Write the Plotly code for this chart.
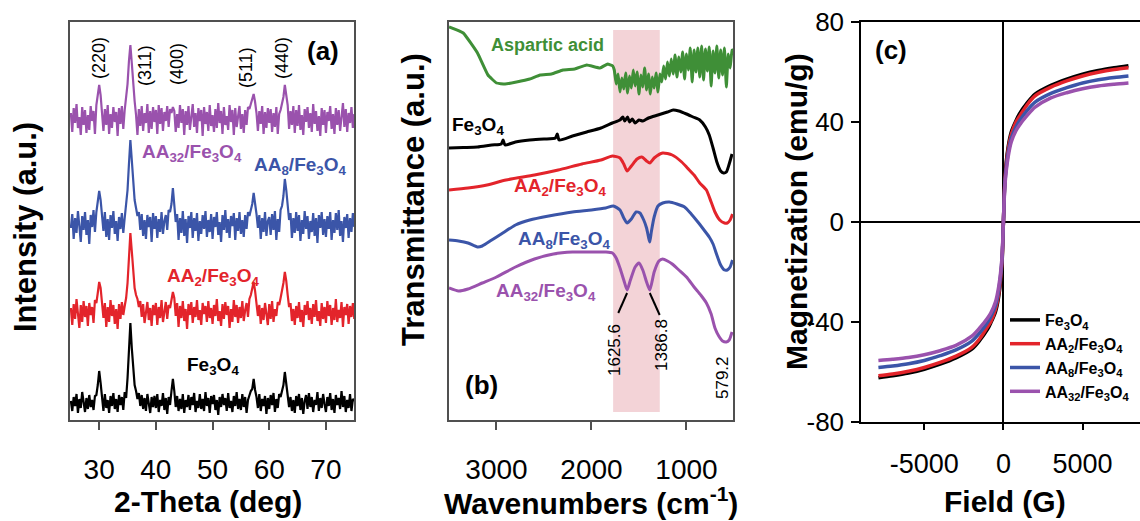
import plotly.graph_objects as go

W, H = 1140, 521
def PX(x): return x / W
def PY(y): return 1 - y / H

FONT = "Liberation Sans, Arial, sans-serif"

BLACK = "#000000"; RED = "#e3242b"; BLUE = "#3b55a8"; PURPLE = "#9a52ad"; GREEN = "#3f8f37"

# ---------------- (a) XRD ----------------
XRD_START = 25.0
XRD_STEP = 0.25
XRD_NAMES = ["Fe3O4", "AA2/Fe3O4", "AA8/Fe3O4", "AA32/Fe3O4"]
XRD_OFFSETS = [17, 107, 196, 301]
xrd_fe3o4 = [
    2,-8,6,-3,9,-10,4,-5,11,-2,-9,5,-6,8,-4,3,-7,7,8,18,
    32,20,6,-8,9,-5,3,-10,7,-3,10,-6,4,-9,8,-2,6,-7,11,5,
    25,50,80,55,30,18,12,4,10,-3,8,-6,5,-8,9,-2,-10,6,-4,7,
    -5,9,-9,3,-3,10,-7,5,-11,6,-2,12,24,12,-4,7,-8,4,-6,9,
    -10,3,-4,8,-7,6,-2,10,-9,2,-5,9,-6,4,-8,11,-3,5,-10,7,
    -1,8,-7,3,-12,6,-4,9,-2,5,-8,10,-5,2,-9,7,-3,11,-6,4,
    -7,9,-4,6,-10,3,8,12,14,24,13,6,-5,9,-8,4,-3,7,-11,5,
    -6,8,-2,10,-9,4,-5,9,6,12,18,31,20,9,-4,6,-8,3,-10,7,
    -3,9,-7,5,-11,2,8,-6,10,-4,6,-9,3,-2,11,-8,5,-5,9,-1,
    -9,6,-3,10,-7,4,-10,8,-2,5,-6,12,-4,7,-9,3,-5,9,-8,4,
    2]
xrd_aa2 = [
    5,-12,9,-6,14,-3,-15,8,-9,12,-4,7,-13,10,-2,6,-10,13,10,20,
    31,25,12,-5,10,-14,6,-9,13,-3,8,-11,4,-16,9,-6,11,-2,7,15,
    30,55,80,62,38,25,18,14,6,12,-4,9,-10,3,11,-7,5,-13,8,-2,
    10,-12,6,-5,13,-9,2,11,-6,8,5,14,21,15,-3,10,-14,7,-5,12,
    -8,4,-16,9,-2,11,-10,6,-4,13,-7,3,-12,10,-1,7,-9,12,-5,5,
    -11,8,-3,14,-8,2,-13,9,-6,11,-2,7,-15,4,-9,13,-4,8,-10,6,
    -5,12,-8,3,10,-4,14,18,24,31,22,12,-3,8,-11,5,-7,10,-2,-12,
    9,-6,12,-9,4,-3,11,8,15,22,30,41,32,18,6,10,-8,4,-12,7,
    -5,11,-9,3,-14,8,-2,12,-7,5,-11,9,-4,13,-8,2,-13,10,-6,6,
    -10,12,-3,8,-12,5,-7,14,-9,3,-5,11,-14,6,-2,9,-11,7,-4,10,
    -6]
xrd_aa8 = [
    -4,10,-15,6,-9,13,-2,-18,8,-6,12,-11,4,-20,9,-3,14,-8,12,22,
    33,24,10,-7,12,-13,5,-16,9,-4,13,-10,3,-17,7,-5,11,-9,6,18,
    34,60,84,64,40,24,16,8,12,-6,10,-12,4,-15,9,-3,7,-18,11,-5,
    8,-14,5,-8,12,-10,3,9,-6,14,12,20,36,18,2,10,-16,6,-9,13,
    -12,5,-19,8,-4,12,-14,6,-7,11,-17,3,-10,9,-5,13,-13,4,-8,10,
    -15,7,-3,12,-11,2,-18,9,-6,14,-9,5,-14,8,-2,11,-16,6,-7,12,
    -10,4,-13,9,-5,12,8,14,20,31,22,10,-4,9,-15,6,-8,12,-12,3,
    7,-11,10,-6,13,-16,5,-8,14,18,28,45,34,16,4,11,-14,6,-9,12,
    -7,9,-17,4,-10,13,-5,8,-15,3,-8,11,-12,6,-19,9,-4,12,-11,5,
    -13,8,-5,12,-16,4,-9,11,-6,14,-12,3,-18,7,-4,10,-14,6,-8,11,
    -3]
xrd_aa32 = [
    6,-13,11,-4,15,-9,2,-16,12,-6,9,-14,4,-11,13,-2,8,-15,14,22,
    34,24,8,-12,10,-6,14,-15,5,-9,12,-3,7,-17,11,-5,13,-10,9,20,
    35,58,74,56,34,18,4,-16,10,-7,13,-12,6,-4,15,-14,8,-10,12,-3,
    9,-15,14,-5,11,-12,7,-2,13,-8,10,6,12,8,-13,5,-9,14,-4,10,
    -16,8,-6,13,-11,3,15,-8,6,-14,11,-2,9,-17,12,-5,7,-12,14,-7,
    4,-13,10,-9,16,-4,8,-15,12,-6,3,-11,14,-3,9,-16,11,-8,6,13,
    -10,5,-14,9,-6,12,10,15,18,25,17,6,-12,8,-5,13,-15,7,-9,11,
    -4,10,-13,6,-8,12,-15,5,9,16,22,34,26,14,-10,8,-6,13,-14,9,
    -7,14,-11,4,-16,10,-3,12,-9,6,-13,15,-5,8,-12,3,-17,11,-6,9,
    -14,7,-2,13,-10,5,-15,11,-6,9,-12,4,16,-8,10,-13,6,-4,12,-9,
    5]
XRD_SERIES = [xrd_fe3o4, xrd_aa2, xrd_aa8, xrd_aa32]
XRD_TICKS = [30, 40, 50, 60, 70]
HKL_LABELS = ["(220)", "(311)", "(400)", "(511)", "(440)"]

# ---------------- (b) FTIR ----------------
asp_wn = [3500, 3350, 3200, 3090, 3000, 2910, 2790, 2650, 2540, 2420, 2300, 2175, 2050, 1910, 1830, 1776,
          1760, 1740, 1720, 1700, 1680, 1660, 1640, 1620, 1600, 1580, 1560, 1540, 1520, 1500, 1480, 1460,
          1440, 1420, 1400, 1380, 1360, 1340, 1320, 1300, 1280, 1260, 1240, 1220, 1200, 1180, 1160, 1140,
          1120, 1100, 1080, 1060, 1040, 1020, 1000, 980, 960, 940, 920, 900, 880, 860, 840, 820, 800, 780,
          760, 740, 720, 700, 680, 660, 640, 620, 600, 580, 560, 540, 520, 510]
asp_t = [393, 387, 367, 345, 337, 336, 338, 341, 345, 346, 350, 351, 355, 352, 356, 354,
         350, 336, 346, 328, 342, 331, 347, 327, 344, 332, 350, 334, 348, 326, 345, 333,
         352, 330, 346, 326, 343, 332, 347, 328, 346, 338, 354, 341, 358, 344, 361, 346,
         365, 343, 363, 348, 368, 341, 366, 350, 372, 338, 370, 348, 372, 343, 374, 340, 371, 349,
         373, 334, 369, 347, 374, 342, 370, 345, 372, 333, 366, 352, 370, 370]

fe_wn = [3500, 3350, 3200, 3050, 2950, 2930, 2910, 2800, 2650, 2500, 2380, 2360, 2340, 2200, 2050, 1900,
         1780, 1700, 1670, 1650, 1620, 1600, 1570, 1540, 1500, 1460, 1400, 1300, 1200, 1140, 1080, 1000,
         930, 860, 800, 760, 720, 680, 640, 610, 580, 550, 520]
fe_t = [272, 272.5, 273, 275, 276, 280, 275, 278, 280, 281, 282, 286, 280, 284, 288, 292,
        297, 300, 303, 299, 303, 298, 301, 297, 300, 299, 302, 305, 308, 310, 309, 306,
        303, 300, 293, 285, 272, 258, 249, 247, 248, 256, 266]

aa2_wn = [3500, 3300, 3100, 2900, 2600, 2350, 2100, 1900, 1780, 1700, 1660, 1625, 1580, 1520, 1470, 1420,
          1386, 1340, 1250, 1150, 1050, 990, 920, 860, 790, 740, 700, 650, 600, 570, 540, 515]
aa2_t = [230, 232, 235, 240, 245, 250, 256, 260, 264, 262, 256, 249, 254, 261, 263, 259,
         257, 262, 267, 265, 258, 252, 245, 237, 230, 218, 208, 200, 197, 197, 200, 206]

aa8_wn = [3500, 3400, 3300, 3200, 3150, 3050, 2950, 2800, 2650, 2450, 2200, 2000, 1850, 1770, 1700, 1660,
          1625, 1580, 1530, 1490, 1450, 1420, 1400, 1386, 1370, 1340, 1300, 1250, 1180, 1100, 1020, 950,
          880, 815, 760, 720, 680, 640, 600, 570, 540, 515]
aa8_t = [180, 179, 177, 173, 174, 180, 186, 195, 200, 204, 208, 210, 212, 214, 210, 202,
         197, 201, 208, 207, 200, 192, 183, 178, 188, 203, 214, 217, 218, 216, 213, 206,
         198, 190, 183, 176, 165, 155, 150, 150, 153, 160]

aa32_wn = [3500, 3400, 3300, 3150, 3000, 2800, 2600, 2400, 2200, 2000, 1850, 1780, 1740, 1700, 1660, 1625,
           1590, 1540, 1500, 1460, 1420, 1386, 1340, 1290, 1250, 1200, 1150, 1080, 1000, 920, 850, 790,
           740, 700, 660, 620, 580, 550, 520]
aa32_t = [132, 129, 131, 137, 143, 153, 161, 166, 168, 168, 168, 167, 162, 152, 140, 130,
          140, 153, 157, 150, 138, 130, 148, 159, 161, 159, 156, 150, 143, 133, 125, 117,
          106, 92, 84, 79, 78, 80, 88]

FTIR_TICKS = [3000, 2000, 1000]
BAND_WN = [1772, 1281]
PEAK_LABELS = ["1625.6", "1386.8", "579.2"]

# ---------------- (c) M-H ----------------
field = [-7900, -7000, -6000, -5000, -4000, -3000, -2000, -1500, -1000, -800, -500, -300, -100, 0,
         100, 300, 500, 800, 1000, 1500, 2000, 3000, 4000, 5000, 6000, 7000, 7900]
m_fe3o4 = [-62.4, -61.6, -60.5, -59, -57, -54.5, -51, -47.5, -43, -40.5, -36, -30, -18, 0,
           18, 30, 36, 40.5, 43, 47.5, 51, 54.5, 57, 59, 60.5, 61.6, 62.4]
m_aa2 = [-61.6, -60.9, -59.8, -58.3, -56.3, -53.8, -50.3, -46.8, -42, -40, -35, -29, -17, 0,
         17, 29, 35, 40, 42, 46.8, 50.3, 53.8, 56.3, 58.3, 59.8, 60.9, 61.6]
m_aa8 = [-58.3, -57.7, -56.8, -55.5, -53.6, -51.3, -47.8, -44.5, -40.2, -38, -33.5, -27.5, -16, 0,
         16, 27.5, 33.5, 38, 40.2, 44.5, 47.8, 51.3, 53.6, 55.5, 56.8, 57.7, 58.3]
m_aa32 = [-55.5, -55, -54.3, -53.2, -51.6, -49.5, -45.8, -42.5, -38.5, -36.5, -32, -26, -15, 0,
          15, 26, 32, 36.5, 38.5, 42.5, 45.8, 49.5, 51.6, 53.2, 54.3, 55, 55.5]
MH_TICKS_X = [-5000, 0, 5000]
MH_TICKTEXT_X = ["-5000", "0", "5000"]
MH_TICKS_Y = [-80, -40, 0, 40, 80]
MH_TICKTEXT_Y = ["-80", "-40", "0", "40", "80"]

LBL = {
    "Fe3O4": "Fe<sub>3</sub>O<sub>4</sub>",
    "AA2/Fe3O4": "AA<sub>2</sub>/Fe<sub>3</sub>O<sub>4</sub>",
    "AA8/Fe3O4": "AA<sub>8</sub>/Fe<sub>3</sub>O<sub>4</sub>",
    "AA32/Fe3O4": "AA<sub>32</sub>/Fe<sub>3</sub>O<sub>4</sub>",
}
COLS = [BLACK, RED, BLUE, PURPLE]

fig = go.Figure()

# (a)
for name, ys, off, col in zip(XRD_NAMES, XRD_SERIES, XRD_OFFSETS, COLS):
    xs = [XRD_START + XRD_STEP * i for i in range(len(ys))]
    fig.add_trace(go.Scatter(x=xs, y=[v + off for v in ys], mode="lines",
                             line=dict(color=col, width=2.2), showlegend=False,
                             xaxis="x", yaxis="y"))

# (b)
for wn, t, col in [(asp_wn, asp_t, GREEN), (fe_wn, fe_t, BLACK), (aa2_wn, aa2_t, RED),
                   (aa8_wn, aa8_t, BLUE), (aa32_wn, aa32_t, PURPLE)]:
    fig.add_trace(go.Scatter(x=wn, y=t, mode="lines",
                             line=dict(color=col, width=3, shape="spline", smoothing=0.6 if col != GREEN else 0.3),
                             showlegend=False, xaxis="x2", yaxis="y2"))

# (c)
for name, m, col in zip(XRD_NAMES, [m_fe3o4, m_aa2, m_aa8, m_aa32], COLS):
    fig.add_trace(go.Scatter(x=field, y=m, mode="lines", name="<b>" + LBL[name] + "</b>",
                             line=dict(color=col, width=3.5, shape="spline", smoothing=0.8),
                             xaxis="x3", yaxis="y3"))

ydom = [PY(420), PY(22)]
box = dict(showline=True, mirror=True, linecolor="#505050", linewidth=1.5, showgrid=False,
           zeroline=False, automargin=False)
fig.update_layout(
    template="none",
    width=W, height=H, margin=dict(l=0, r=0, t=0, b=0, pad=0, autoexpand=False),
    paper_bgcolor="white", plot_bgcolor="white",
    font=dict(family=FONT, color="black"),
    xaxis=dict(domain=[PX(70), PX(354)], range=[24.85, 74.95], tickvals=XRD_TICKS, ticks="outside",
               ticklen=8, tickcolor="#505050", tickwidth=1.5, tickfont=dict(size=28),
               ticklabelstandoff=16, anchor="y", **box),
    yaxis=dict(domain=ydom, range=[0, 398], showticklabels=False, ticks="", anchor="x", **box),
    xaxis2=dict(domain=[PX(449), PX(733)], range=[3500, 510], tickvals=FTIR_TICKS, ticks="outside",
                ticklen=8, tickcolor="#505050", tickwidth=1.5, tickfont=dict(size=28),
                ticklabelstandoff=16, anchor="y2", **box),
    yaxis2=dict(domain=ydom, range=[0, 398], showticklabels=False, ticks="", anchor="x2", **box),
    xaxis3=dict(domain=[PX(861), 1.0], range=[-9000, 8630], tickvals=MH_TICKS_X, ticktext=MH_TICKTEXT_X,
                ticks="outside", ticklen=7, tickcolor="black", tickwidth=1.5, tickfont=dict(size=27),
                ticklabelstandoff=10, showline=True, mirror=True, linecolor="black", linewidth=1.5,
                showgrid=False, zeroline=True, zerolinecolor="black", zerolinewidth=1.5,
                anchor="y3", automargin=False),
    yaxis3=dict(domain=[PY(421.7), PY(21.7)], range=[-80, 80], tickvals=MH_TICKS_Y, ticktext=MH_TICKTEXT_Y,
                ticks="outside", ticklen=8, tickcolor="black", tickwidth=1.5, tickfont=dict(size=26),
                ticklabelstandoff=2, showline=True, mirror=False, linecolor="black", linewidth=1.5,
                showgrid=False, zeroline=True, zerolinecolor="black", zerolinewidth=1.5,
                anchor="x3", automargin=False),
    legend=dict(x=PX(1005), y=PY(303), xanchor="left", yanchor="top", bgcolor="rgba(0,0,0,0)",
                borderwidth=0, font=dict(size=16), tracegroupgap=0),
)

# pink band and peak markers in (b)
fig.add_shape(type="rect", xref="x2", yref="y2", x0=BAND_WN[0], x1=BAND_WN[1], y0=8, y1=390,
              fillcolor="#f3d3d7", line=dict(width=0), layer="below")
fig.add_shape(type="line", xref="x2", yref="y2", x0=1625, y0=127, x1=1718, y1=107,
              line=dict(color="black", width=2))
fig.add_shape(type="line", xref="x2", yref="y2", x0=1386, y0=127, x1=1282, y1=105,
              line=dict(color="black", width=2))

def ann(text, x, y, size, color="black", angle=0, bold=True):
    fig.add_annotation(text=("<b>%s</b>" % text) if bold else text, x=PX(x), y=PY(y),
                       xref="paper", yref="paper", showarrow=False, textangle=angle,
                       font=dict(size=size, color=color, family=FONT), xanchor="center", yanchor="middle")

# (a) labels
for lab, (x, y) in zip(HKL_LABELS, [(99, 58), (145, 66), (177, 64), (246, 68), (282, 58)]):
    ann(lab, x, y, 18, angle=-90, bold=False)
ann("(a)", 323, 51, 26)
ann(LBL["AA32/Fe3O4"], 192, 153, 19, PURPLE)
ann(LBL["AA8/Fe3O4"], 300, 166, 19, BLUE)
ann(LBL["AA2/Fe3O4"], 213, 277, 19, RED)
ann(LBL["Fe3O4"], 213, 366, 19, BLACK)

# (b) labels
ann("Aspartic acid", 547, 45, 18, GREEN)
ann(LBL["Fe3O4"], 478, 126, 19, BLACK)
ann(LBL["AA2/Fe3O4"], 560, 187, 19, RED)
ann(LBL["AA8/Fe3O4"], 564, 240, 19, BLUE)
ann(LBL["AA32/Fe3O4"], 546, 292, 19, PURPLE)
ann("(b)", 481, 385, 26)
for lab, (x, y) in zip(PEAK_LABELS, [(614, 350), (661, 345), (722, 378)]):
    ann(lab, x, y, 17, angle=-90, bold=False)

# (c) label
ann("(c)", 891, 50, 26)

# axis titles
ann("Intensity (a.u.)", 25, 227, 31, angle=-90)
ann("Transmittance (a.u.)", 413, 200, 31, angle=-90)
ann("Magnetization (emu/g)", 797, 212, 30, angle=-90)
ann("2-Theta (deg)", 208, 501, 30)
ann("Wavenumbers (cm<sup>-1</sup>)", 591, 501, 30)
ann("Field (G)", 1005, 501, 30)

fig.write_html("out.html", config={"displayModeBar": False},
               post_script="document.body.style.margin='0px';document.body.style.overflow='hidden';")
